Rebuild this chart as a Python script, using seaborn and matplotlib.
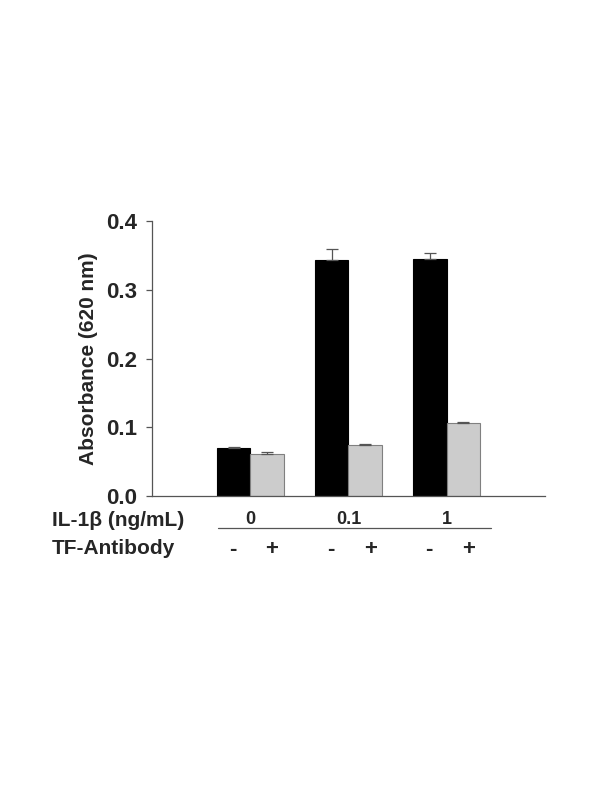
import numpy as np
import pandas as pd
import matplotlib
matplotlib.use("Agg")
import matplotlib.pyplot as plt
import seaborn as sns

# Datos
dosis = ["0", "0.1", "1"]
anticuerpo = ["-", "+"]
abs_sin = [0.070, 0.343, 0.345]
abs_con = [0.061, 0.074, 0.106]
err_sin = [0.002, 0.016, 0.008]
err_con = [0.003, 0.002, 0.001]

df = pd.DataFrame({
    "dosis": dosis * 2,
    "anticuerpo": ["-"] * 3 + ["+"] * 3,
    "absorbancia": abs_sin + abs_con,
    "error": err_sin + err_con,
})

sns.set_style("white")
plt.rcParams["font.family"] = ["Liberation Sans", "DejaVu Sans"]

fig = plt.figure(figsize=(6, 7.98), dpi=100)
ax = fig.add_axes([0.2533, 0.3784, 0.655, 0.3447])

sns.barplot(data=df, x="dosis", y="absorbancia", hue="anticuerpo",
            order=dosis, hue_order=anticuerpo,
            palette=["black", "#cccccc"], errorbar=None, width=0.68,
            saturation=1, ax=ax, legend=False)

# bordes y barras de error (solo hacia arriba)
barras = list(ax.containers)
for i, cont in enumerate(barras):
    errs = err_sin if i == 0 else err_con
    for patch, e in zip(cont, errs):
        patch.set_edgecolor("black" if i == 0 else "#808080")
        patch.set_linewidth(0.8)
        xc = patch.get_x() + patch.get_width() / 2
        h = patch.get_height()
        ax.errorbar(xc, h, yerr=[[0], [e]], fmt="none", ecolor="#555555",
                    elinewidth=0.9, capsize=4, capthick=0.9)

ax.set_xlim(-1.0, 3.0)
ax.set_ylim(0, 0.4)
ax.set_yticks([0.0, 0.1, 0.2, 0.3, 0.4])
ax.set_yticklabels([f"{v:.1f}" for v in [0.0, 0.1, 0.2, 0.3, 0.4]],
                   fontsize=16, fontweight="bold")
ax.set_xticks([])
ax.set_xlabel("")
ax.set_ylabel("Absorbance (620 nm)", fontsize=15, fontweight="bold")
ax.yaxis.set_label_coords(-0.137, 0.5)

for s in ["top", "right"]:
    ax.spines[s].set_visible(False)
for s in ["left", "bottom"]:
    ax.spines[s].set_color("#555555")
    ax.spines[s].set_linewidth(0.9)
ax.tick_params(axis="y", which="major", direction="out", length=4,
               width=0.9, color="#555555", left=True, pad=7)

# etiquetas debajo del eje
trans = ax.get_xaxis_transform()
for j, d in enumerate(dosis):
    ax.text(j, -0.085, d, transform=trans, ha="center", va="center",
            fontsize=13, fontweight="bold")
ax.plot([-0.33, 2.45], [-0.116, -0.116], transform=trans, color="#555555",
        lw=0.9, clip_on=False)
for j in range(len(dosis)):
    ax.text(j - 0.18, -0.196, "-", transform=trans, ha="center", va="center",
            fontsize=16, fontweight="bold")
    ax.text(j + 0.22, -0.196, "+", transform=trans, ha="center", va="center",
            fontsize=16, fontweight="bold")

fig.text(52 / 600, 1 - 521 / 798, "IL-1β (ng/mL)", ha="left", va="center",
         fontsize=15, fontweight="bold")
fig.text(52 / 600, 1 - 549 / 798, "TF-Antibody", ha="left", va="center",
         fontsize=15, fontweight="bold")

fig.savefig("out.png", dpi=100)
